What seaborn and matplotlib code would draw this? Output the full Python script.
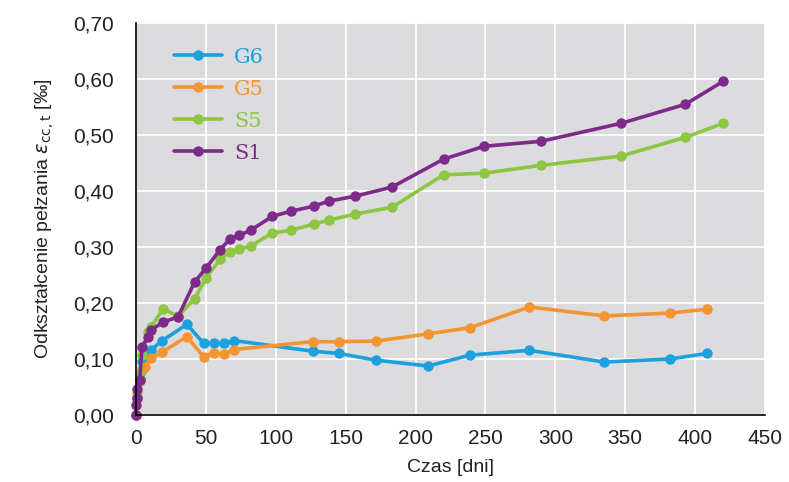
import pandas as pd
import seaborn as sns
import matplotlib.pyplot as plt
from matplotlib.ticker import FuncFormatter

# Data (days, creep strain in per mille)
days_g = [0, 1, 2.6, 4.3, 6.3, 10.5, 18.4, 36.4, 48.3, 55.5, 62.7, 70,
          126.4, 145, 171.5, 209, 239, 281.5, 335, 382, 408.5]
g6 = [0, 0.03, 0.065, 0.097, 0.102, 0.116, 0.132, 0.162, 0.128, 0.128, 0.128, 0.133,
      0.114, 0.110, 0.098, 0.0875, 0.107, 0.1155, 0.0946, 0.100, 0.110]
g5 = [0, 0.03, 0.06, 0.08, 0.086, 0.102, 0.112, 0.140, 0.104, 0.111, 0.109, 0.117,
      0.131, 0.131, 0.132, 0.145, 0.156, 0.193, 0.177, 0.182, 0.189]

days_s5 = [0, 1, 2.6, 4.3, 8.6, 11, 19.4, 30, 42, 50, 60, 67, 74, 82, 97.6, 111,
           127, 138, 157, 183, 220, 249, 290, 347, 393, 420]
s5 = [0, 0.04, 0.073, 0.108, 0.148, 0.158, 0.19, 0.176, 0.208, 0.244, 0.278, 0.292,
      0.296, 0.302, 0.325, 0.330, 0.341, 0.348, 0.359, 0.371, 0.429, 0.432, 0.446,
      0.4625, 0.496, 0.521]

days_s1 = [0, 0.2, 0.5, 1, 2.6, 4.3, 8.6, 11, 19.4, 30, 42, 50, 60, 67, 74, 82, 97.6,
           111, 127, 138, 157, 183, 220, 249, 290, 347, 393, 420]
s1 = [0, 0.018, 0.03, 0.046, 0.062, 0.122, 0.14, 0.152, 0.166, 0.175, 0.238, 0.262,
      0.295, 0.314, 0.321, 0.330, 0.355, 0.364, 0.373, 0.382, 0.391, 0.407, 0.457,
      0.480, 0.489, 0.521, 0.555, 0.596]

series = ['G6', 'G5', 'S5', 'S1']
colors = {'G6': '#1ba1dd', 'G5': '#f39532', 'S5': '#8dc641', 'S1': '#7d2a8a'}

frames = []
for name, x, y in [('G6', days_g, g6), ('G5', days_g, g5),
                   ('S5', days_s5, s5), ('S1', days_s1, s1)]:
    frames.append(pd.DataFrame({'Czas': x, 'Odksztalcenie': y, 'Seria': name}))
data = pd.concat(frames, ignore_index=True)

sns.set_style('white')
plt.rcParams['font.family'] = ['Liberation Sans', 'DejaVu Sans']
plt.rcParams['text.color'] = '#222222'

fig = plt.figure(figsize=(7.89, 4.82), dpi=100)
ax = fig.add_axes([0.1724, 0.139, 0.7972, 0.813])
ax.set_facecolor('#dcdbde')

sns.lineplot(data=data, x='Czas', y='Odksztalcenie', hue='Seria', hue_order=series,
             palette=colors, marker='o', markersize=7.5, markeredgewidth=0,
             linewidth=2.6, sort=False, estimator=None, ax=ax, clip_on=False)

ax.set_xlim(0, 450)
ax.set_ylim(0, 0.70)
ax.set_xticks(range(0, 451, 50))
ax.set_yticks([i / 10 for i in range(8)])
ax.yaxis.set_major_formatter(FuncFormatter(lambda v, p: f'{v:.2f}'.replace('.', ',')))
ax.grid(True, color='white', linewidth=1.3)
ax.set_axisbelow(True)

for s in ['top', 'right']:
    ax.spines[s].set_visible(False)
for s in ['left', 'bottom']:
    ax.spines[s].set_color('black')
    ax.spines[s].set_linewidth(1.2)
ax.tick_params(direction='in', length=8, width=1, color='black', labelcolor='#222222',
               labelsize=15)
ax.tick_params(axis='y', pad=16)
ax.tick_params(axis='x', pad=10)

ax.set_xlabel('Czas [dni]', fontsize=14, labelpad=8, color='#222222')
ax.set_ylabel('Odkształcenie pełzania $\\varepsilon_{\\mathrm{cc,t}}$ [‰]', fontsize=14,
              labelpad=12, color='#222222')

# Legend with coloured labels
handles, labels = ax.get_legend_handles_labels()
leg = ax.legend(handles, labels, loc='upper left', bbox_to_anchor=(0.03, 0.985),
                frameon=False, handlelength=2.3, handletextpad=0.6, labelspacing=0.62,
                prop={'family': 'DejaVu Serif', 'size': 15}, labelcolor='linecolor')

plt.savefig('out.png', dpi=100)
plt.close()
